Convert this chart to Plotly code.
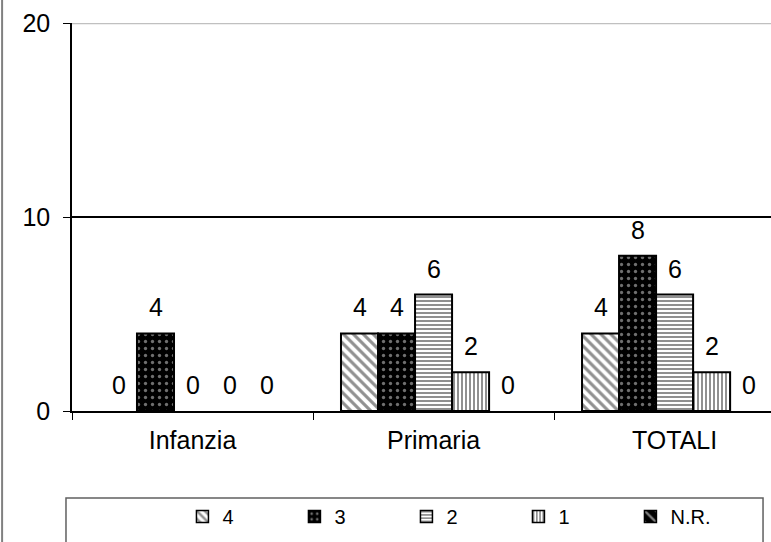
import plotly.graph_objects as go

# Chart data
categories = ['Infanzia', 'Primaria', 'TOTALI']
series_names = ['4', '3', '2', '1', 'N.R.']
values_4 = [0, 4, 4]
values_3 = [4, 4, 8]
values_2 = [0, 6, 6]
values_1 = [0, 2, 2]
values_nr = [0, 0, 0]
y_ticks = [0, 10, 20]

series_values = [values_4, values_3, values_2, values_1, values_nr]

# Patterns that mimic the old black & white Excel fills
patterns = [
    dict(shape='\\', fgcolor='#222222', bgcolor='white', size=7, solidity=0.45),
    dict(shape='.', fgcolor='#dddddd', bgcolor='black', size=7, solidity=0.18),
    dict(shape='-', fgcolor='#222222', bgcolor='white', size=4, solidity=0.5),
    dict(shape='|', fgcolor='#222222', bgcolor='white', size=4, solidity=0.5),
    dict(shape='\\', fgcolor='white', bgcolor='black', size=10, solidity=0.3),
]

FONT = 'Liberation Sans, Arial, sans-serif'
BAR_PX = 37.0  # width of one bar in pixels, used to shift value labels

fig = go.Figure()
annotations = []
n = len(series_names)
for i, (name, vals, pat) in enumerate(zip(series_names, series_values, patterns)):
    fig.add_trace(go.Bar(
        x=categories, y=vals, name=name, showlegend=False,
        legendgroup=name, offsetgroup=name,
        marker=dict(color=pat['bgcolor'], pattern=pat,
                    # no outline for empty bars
                    line=dict(color='black', width=[2 if v else 0 for v in vals])),
    ))
    # legend-only entry so the key keeps its outline
    fig.add_trace(go.Bar(
        x=[None], y=[None], name=name, legendgroup=name, offsetgroup=name,
        marker=dict(color=pat['bgcolor'], pattern=pat, line=dict(color='black', width=1.5)),
    ))
    for cat, v in zip(categories, vals):
        annotations.append(dict(
            x=cat, y=v, xref='x', yref='y', text=str(v), showarrow=False,
            xanchor='center', yanchor='bottom', yshift=10,
            xshift=(i - (n - 1) / 2) * BAR_PX,
            font=dict(size=25, color='black', family=FONT),
        ))

fig.update_layout(
    width=771, height=542,
    barmode='group', bargap=0.232, bargroupgap=0,
    plot_bgcolor='white', paper_bgcolor='white',
    margin=dict(l=72, r=0, t=23, b=131, autoexpand=False),
    font=dict(family=FONT, size=25, color='black'),
    showlegend=True,
    legend=dict(orientation='h', x=0.158, y=-0.272, xanchor='left', yanchor='middle',
                entrywidth=67, itemwidth=30, bgcolor='rgba(0,0,0,0)',
                font=dict(size=20, family=FONT), traceorder='normal'),
    xaxis=dict(range=[-0.5, 2.4], showline=True, linecolor='black', linewidth=1.5,
               ticks='outside', tickson='boundaries', ticklen=7, tickcolor='black',
               tickfont=dict(size=25), ticklabelstandoff=6, showgrid=False),
    yaxis=dict(range=[0, 20], tickvals=y_ticks, showline=True, linecolor='black',
               linewidth=1.5, ticks='outside', ticklen=7, tickcolor='black',
               tickfont=dict(size=25), ticklabelstandoff=8,
               showgrid=True, gridcolor='black', gridwidth=1.5, zeroline=False),
    annotations=annotations,
    shapes=[
        # light top line at 20
        dict(type='line', xref='paper', yref='y', x0=0, x1=1, y0=20, y1=20,
             line=dict(color='#c0c0c0', width=2.5)),
        # outer chart border (left edge)
        dict(type='line', xref='paper', yref='paper', x0=-0.1, x1=-0.1, y0=-0.4, y1=1.1,
             line=dict(color='#808080', width=2)),
        # legend box
        dict(type='rect', xref='paper', yref='paper', x0=-0.0086, x1=0.9886,
             y0=-0.4, y1=-0.224, line=dict(color='#606060', width=1.5)),
    ],
)

fig.write_html('out.html', config={'displayModeBar': False},
               post_script="document.body.style.margin='0';")
